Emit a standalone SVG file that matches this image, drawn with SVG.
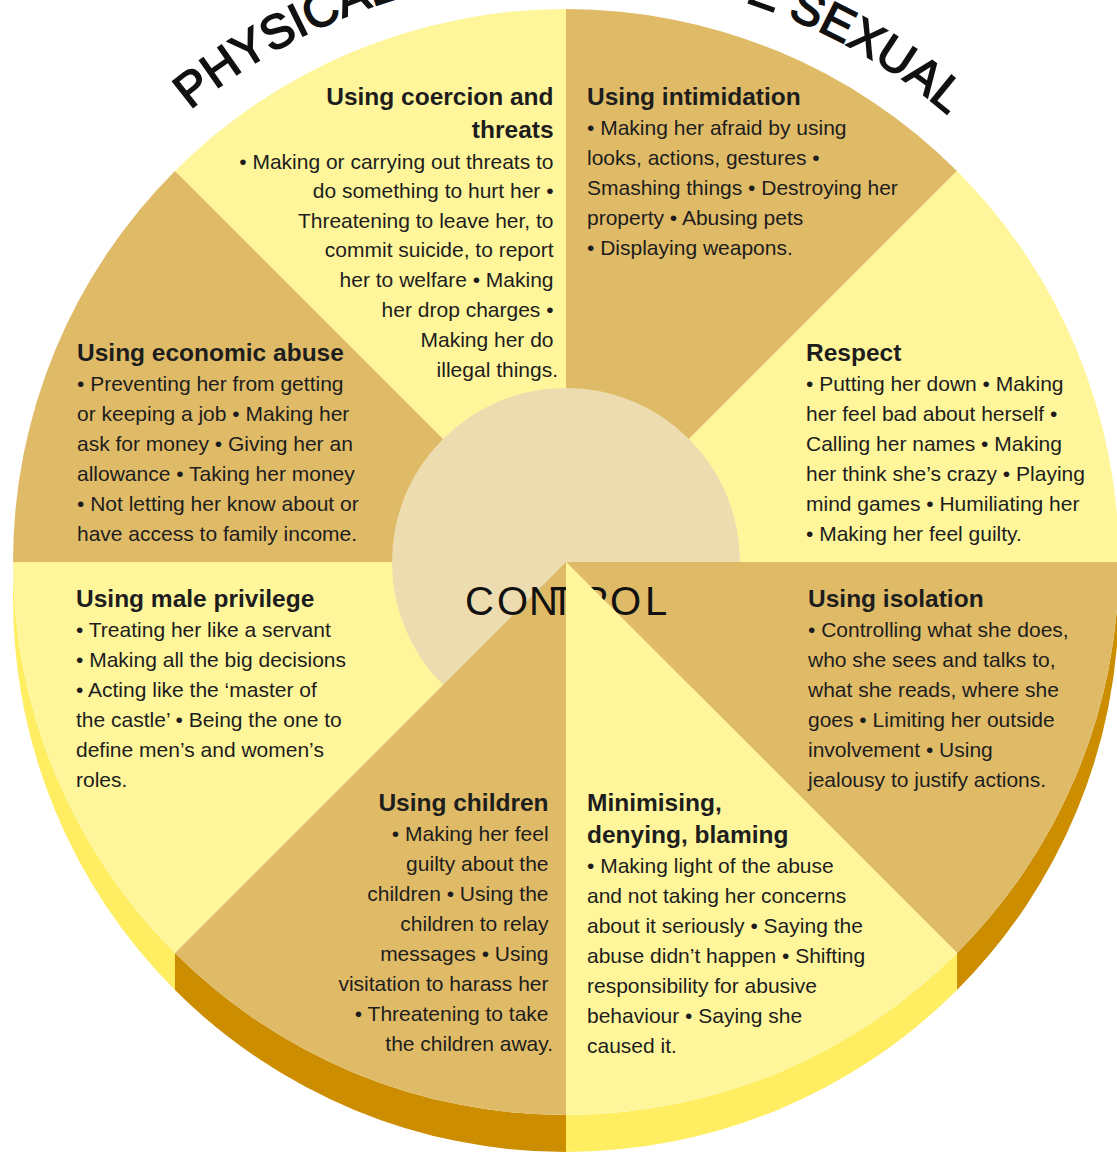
<svg xmlns="http://www.w3.org/2000/svg" xmlns:xlink="http://www.w3.org/1999/xlink" width="1117" height="1153" viewBox="0 0 1117 1153">
  <style>
    .face-light { fill: #FFF69B; }
    .face-dark { fill: #E0BB67; }
    .rim-light { fill: #FFEE62; }
    .rim-dark { fill: #CC8D00; }
    .hub { fill: #EDDCB0; }
    text { font-family: "Liberation Sans", Arial, sans-serif; fill: #1d1d1d; }
    .title { font-size: 24.5px; font-weight: bold; }
    .body { font-size: 21px; }
    .end { text-anchor: end; }
    .ring { font-size: 48px; fill: #111; stroke: #111; stroke-width: 1.6px; }
    .hub-text { font-size: 40px; fill: #111; }
  </style>
  <defs>
    <!-- baseline arc for the outer ring lettering, centred on the wheel -->
    <path id="ringArc" d="M 56.8 268 A 588 588 0 0 1 1075.2 268" fill="none"/>
  </defs>

  <rect width="1117" height="1153" fill="#FFFFFF"/>

  <!-- outer ring lettering (runs past the top edge of the canvas) -->
  <g id="ring-label">
    <text class="ring"><textPath xlink:href="#ringArc" startOffset="208">PHYSICAL</textPath></text>
    <text class="ring"><textPath xlink:href="#ringArc" startOffset="797">E</textPath></text>
    <text class="ring"><textPath xlink:href="#ringArc" startOffset="842">SEXUAL</textPath></text>
  </g>

  <!-- top-left wedge -->
  <g id="coercion">
    <path class="face-light" d="M566 562 L174.97 170.97 A553 553 0 0 1 566 9 Z"/>
    <text class="end">
      <tspan class="title" x="558" y="105">Using coercion and</tspan>
      <tspan class="title" x="558" y="138">threats</tspan>
      <tspan class="body" x="558" y="169">• Making or carrying out threats to</tspan>
      <tspan class="body" x="558" y="198">do something to hurt her •</tspan>
      <tspan class="body" x="558" y="228">Threatening to leave her, to</tspan>
      <tspan class="body" x="558" y="257">commit suicide, to report</tspan>
      <tspan class="body" x="558" y="287">her to welfare • Making</tspan>
      <tspan class="body" x="558" y="317">her drop charges •</tspan>
      <tspan class="body" x="558" y="347">Making her do</tspan>
      <tspan class="body" x="558" y="377">illegal things.</tspan>
    </text>
  </g>

  <!-- top-right wedge -->
  <g id="intimidation">
    <path class="face-dark" d="M566 562 L566 9 A553 553 0 0 1 957.03 170.97 Z"/>
    <text>
      <tspan class="title" x="587" y="105">Using intimidation</tspan>
      <tspan class="body" x="587" y="135">• Making her afraid by using</tspan>
      <tspan class="body" x="587" y="165">looks, actions, gestures •</tspan>
      <tspan class="body" x="587" y="195">Smashing things • Destroying her</tspan>
      <tspan class="body" x="587" y="225">property • Abusing pets</tspan>
      <tspan class="body" x="587" y="255">• Displaying weapons.</tspan>
    </text>
  </g>

  <!-- right upper wedge -->
  <g id="respect">
    <path class="face-light" d="M566 562 L957.03 170.97 A553 553 0 0 1 1119 562 Z"/>
    <text>
      <tspan class="title" x="806" y="361">Respect</tspan>
      <tspan class="body" x="806" y="391">• Putting her down • Making</tspan>
      <tspan class="body" x="806" y="421">her feel bad about herself •</tspan>
      <tspan class="body" x="806" y="451">Calling her names • Making</tspan>
      <tspan class="body" x="806" y="481">her think she’s crazy • Playing</tspan>
      <tspan class="body" x="806" y="511">mind games • Humiliating her</tspan>
      <tspan class="body" x="806" y="541">• Making her feel guilty.</tspan>
    </text>
  </g>

  <!-- left upper wedge -->
  <g id="economic-abuse">
    <path class="face-dark" d="M566 562 L13 562 A553 553 0 0 1 174.97 170.97 Z"/>
    <text>
      <tspan class="title" x="77" y="361">Using economic abuse</tspan>
      <tspan class="body" x="77" y="391">• Preventing her from getting</tspan>
      <tspan class="body" x="77" y="421">or keeping a job • Making her</tspan>
      <tspan class="body" x="77" y="451">ask for money • Giving her an</tspan>
      <tspan class="body" x="77" y="481">allowance • Taking her money</tspan>
      <tspan class="body" x="77" y="511">• Not letting her know about or</tspan>
      <tspan class="body" x="77" y="541">have access to family income.</tspan>
    </text>
  </g>

  <!-- left lower wedge -->
  <g id="male-privilege">
    <path class="rim-light" d="M174.97 953.03 A553 553 0 0 1 13 562 L13 599 A553 553 0 0 0 174.97 990.03 Z"/>
    <path class="face-light" d="M566 562 L174.97 953.03 A553 553 0 0 1 13 562 Z"/>
    <text>
      <tspan class="title" x="76" y="607">Using male privilege</tspan>
      <tspan class="body" x="76" y="637">• Treating her like a servant</tspan>
      <tspan class="body" x="76" y="667">• Making all the big decisions</tspan>
      <tspan class="body" x="76" y="697">• Acting like the ‘master of</tspan>
      <tspan class="body" x="76" y="727">the castle’ • Being the one to</tspan>
      <tspan class="body" x="76" y="757">define men’s and women’s</tspan>
      <tspan class="body" x="76" y="787">roles.</tspan>
    </text>
  </g>

  <!-- centre disc (its lower-right part lies under the wedges drawn after it) -->
  <g id="hub">
    <circle class="hub" cx="566" cy="562" r="174"/>
  </g>

  <!-- right lower wedge -->
  <g id="isolation">
    <path class="rim-dark" d="M1119 562 A553 553 0 0 1 957.03 953.03 L957.03 990.03 A553 553 0 0 0 1119 599 Z"/>
    <path class="face-dark" d="M566 562 L1119 562 A553 553 0 0 1 957.03 953.03 Z"/>
    <text>
      <tspan class="title" x="808" y="607">Using isolation</tspan>
      <tspan class="body" x="808" y="637">• Controlling what she does,</tspan>
      <tspan class="body" x="808" y="667">who she sees and talks to,</tspan>
      <tspan class="body" x="808" y="697">what she reads, where she</tspan>
      <tspan class="body" x="808" y="727">goes • Limiting her outside</tspan>
      <tspan class="body" x="808" y="757">involvement • Using</tspan>
      <tspan class="body" x="808" y="787">jealousy to justify actions.</tspan>
    </text>
  </g>

  <!-- bottom-left wedge -->
  <g id="children">
    <path class="rim-dark" d="M566 1115 A553 553 0 0 1 174.97 953.03 L174.97 990.03 A553 553 0 0 0 566 1152 Z"/>
    <path class="face-dark" d="M566 562 L566 1115 A553 553 0 0 1 174.97 953.03 Z"/>
    <text class="end">
      <tspan class="title" x="553" y="811">Using children</tspan>
      <tspan class="body" x="553" y="841">• Making her feel</tspan>
      <tspan class="body" x="553" y="871">guilty about the</tspan>
      <tspan class="body" x="553" y="901">children • Using the</tspan>
      <tspan class="body" x="553" y="931">children to relay</tspan>
      <tspan class="body" x="553" y="961">messages • Using</tspan>
      <tspan class="body" x="553" y="991">visitation to harass her</tspan>
      <tspan class="body" x="553" y="1021">• Threatening to take</tspan>
      <tspan class="body" x="553" y="1051">the children away.</tspan>
    </text>
  </g>

  <!-- centre word, partly covered by the bottom-right wedge -->
  <g id="hub-label">
    <text class="hub-text" x="465 497 529 550 580 610 645" y="615">CONTROL</text>
  </g>

  <!-- bottom-right wedge -->
  <g id="minimising">
    <path class="rim-light" d="M957.03 953.03 A553 553 0 0 1 566 1115 L566 1152 A553 553 0 0 0 957.03 990.03 Z"/>
    <path class="face-light" d="M566 562 L957.03 953.03 A553 553 0 0 1 566 1115 Z"/>
    <text>
      <tspan class="title" x="587" y="811">Minimising,</tspan>
      <tspan class="title" x="587" y="843">denying, blaming</tspan>
      <tspan class="body" x="587" y="873">• Making light of the abuse</tspan>
      <tspan class="body" x="587" y="903">and not taking her concerns</tspan>
      <tspan class="body" x="587" y="933">about it seriously • Saying the</tspan>
      <tspan class="body" x="587" y="963">abuse didn’t happen • Shifting</tspan>
      <tspan class="body" x="587" y="993">responsibility for abusive</tspan>
      <tspan class="body" x="587" y="1023">behaviour • Saying she</tspan>
      <tspan class="body" x="587" y="1053">caused it.</tspan>
    </text>
  </g>
</svg>
